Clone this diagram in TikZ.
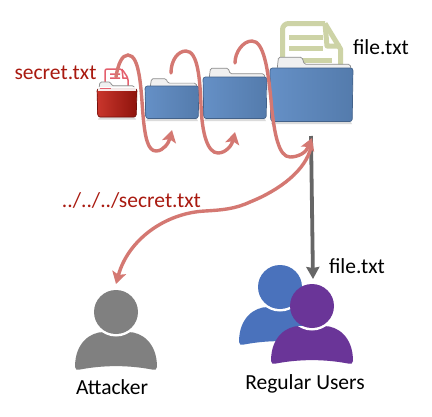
\documentclass[tikz,border=0pt]{standalone}
\usepackage{fontspec}
\setmainfont{Carlito}
\usetikzlibrary{arrows.meta}
\definecolor{redtxt}{HTML}{A91A10}
\definecolor{curve}{HTML}{D47872}
\definecolor{greyarrow}{HTML}{666666}
\definecolor{fa}{HTML}{6590C6}
\definecolor{fb}{HTML}{547BAC}
\definecolor{ra}{HTML}{C9362C}
\definecolor{rb}{HTML}{8E130C}
\definecolor{docc}{HTML}{CDD3A6}
\definecolor{ublue}{HTML}{4A72BC}
\definecolor{upurple}{HTML}{6A3598}
\definecolor{ugrey}{HTML}{808080}
\definecolor{pinkdoc}{HTML}{E4606E}
\tikzset{
 lab/.style={font=\fontsize{21.5}{24}\selectfont,inner sep=0pt,anchor=center},
 redcurve/.style={draw=curve,line width=3.4pt,line cap=round,-{Stealth[length=12pt,width=14pt,inset=2.5pt]}},
 doc/.style={draw=docc,line join=round,line width=5pt}
}
% folder: left, top of body, width, height, tab-left, col1, col2
\newcommand{\myfolder}[7]{
 \begin{scope}[shift={(#1,#2)}]
  \fill[black!14] (3,#4-1) -- (#3-3,#4-1) -- (#3-1,#4+2.5) -- (1,#4+2.5) -- cycle;
  \path[fill=black!6,draw=black!45,line width=.7pt,rounded corners=1.5pt]
   (#5,4) -- (#5+1.5,-0.17*#4) -- (#5+0.3*#3,-0.17*#4) -- (#5+0.33*#3,-.04*#4) -- (#3-3,-.04*#4) -- (#3-1.5,4) -- cycle;
  \path[left color=#6,right color=#7,draw=#7!80!black,line width=.7pt,rounded corners=2.5pt]
   (0,1.5) -- (#3,1.5) -- (#3-.8,#4) -- (.8,#4) -- cycle;
 \end{scope}}
\newcommand{\bodypath}{(-41,55) .. controls (-41,31) and (-26,20) .. (-12,20)
    -- (12,20)
    .. controls (26,20) and (41,31) .. (41,55)
    .. controls (41,58) and (39,58) .. (36,57.5)
    .. controls (12,53) and (-12,53) .. (-36,57.5)
    .. controls (-39,58) and (-41,58) .. (-41,55) -- cycle}
% user: head centre x,y, colour
\newcommand{\myuser}[3]{
 \begin{scope}[shift={(#1,#2)}]
  \fill[#3] \bodypath;
  \begin{scope}
   \clip \bodypath;
   \fill[white] (0,0) circle (24.5);
  \end{scope}
  \fill[#3] (0,0) circle (22);
 \end{scope}}
\begin{document}
\begin{tikzpicture}[x=1pt,y=-1pt]
\useasboundingbox (0,0) rectangle (432,416);
\fill[white] (0,0) rectangle (432,416);
% big document
\draw[doc,rounded corners=6pt] (282.5,68) -- (282.5,23.5) -- (325,23.5);
\draw[doc] (325,23.5) -- (340.5,49) -- (340.5,68);
\draw[doc] (325,23.5) -- (327,46) -- (340.5,46);
\draw[docc,line width=5pt] (289,37) -- (323,37) (289,48) -- (323,48) (289,60) -- (332,60);
% red document
\draw[draw=pinkdoc,line width=1.5pt,rounded corners=2pt,fill=white] (105,88) -- (105,69) -- (122,69) -- (128,78) -- (128,88);
\draw[pinkdoc,line width=1.5pt] (110,74) -- (120,74) (110,78) -- (120,78) (122,69) -- (123,78) -- (128,78);
% folders
\myfolder{97}{87}{40}{30}{1.5}{ra}{rb}
\fill[white,opacity=.9] (98,86.5) rectangle (136,91);
\draw[pinkdoc,line width=1pt] (100,88) -- (111,88);
\myfolder{145}{84.5}{54}{34}{5}{fa}{fb}
\myfolder{203}{75.5}{64}{43}{6}{fa}{fb}
\myfolder{270}{66.5}{83}{55}{7}{fa}{fb}
% labels
\node[lab,text=redtxt] (secret) at (55.5,73) {secret.txt};
\node[lab] (file1) at (381,47.5) {file.txt};
\node[lab,text=redtxt] (path) at (131.5,200) {../../../secret.txt};
\node[lab] (file2) at (357,266) {file.txt};
\node[lab] (att) at (112,387) {Attacker};
\node[lab] (reg) at (305,384) {Regular Users};
% users
\myuser{280}{287}{ublue}
\myuser{312}{306}{upurple}
\myuser{116}{312}{ugrey}
\coordinate (a1) at (116,77);
\coordinate (a2) at (172,130);
\coordinate (b1) at (171,73);
\coordinate (b2) at (235,132);
\coordinate (c1) at (235,63);
\coordinate (c2) at (312,138);
\coordinate (d1) at (311,147);
\coordinate (d2) at (116,284);
\coordinate (e1) at (311,136);
\coordinate (e2) at (313,279);
% connectors
\draw[greyarrow,line width=3.8pt,-{Stealth[length=12pt,width=13pt,inset=1pt]}] (e1) -- (e2);
\draw[redcurve] (a1) .. controls (118,64) and (122,55) .. (128,55)
  .. controls (140,55) and (141,90) .. (143,115)
  .. controls (145,138) and (148,151) .. (156,151)
  .. controls (164,151) and (169,142) .. (a2);
\draw[redcurve] (b1) .. controls (171,60) and (178,51) .. (186,51)
  .. controls (198,51) and (200,80) .. (201,105)
  .. controls (202,135) and (208,153) .. (218,153)
  .. controls (226,153) and (232,145) .. (b2);
\draw[redcurve] (c1) .. controls (235,52) and (243,41) .. (252,41)
  .. controls (264,41) and (268,70) .. (271,100)
  .. controls (274,135) and (279,157) .. (290,157)
  .. controls (298,157) and (306,153) .. (c2);
\draw[redcurve] (d1) .. controls (306,170) and (280,190) .. (250,202)
  .. controls (235,209) and (222,210) .. (205,211)
  .. controls (165,213) and (128,240) .. (d2);
\end{tikzpicture}
\end{document}
